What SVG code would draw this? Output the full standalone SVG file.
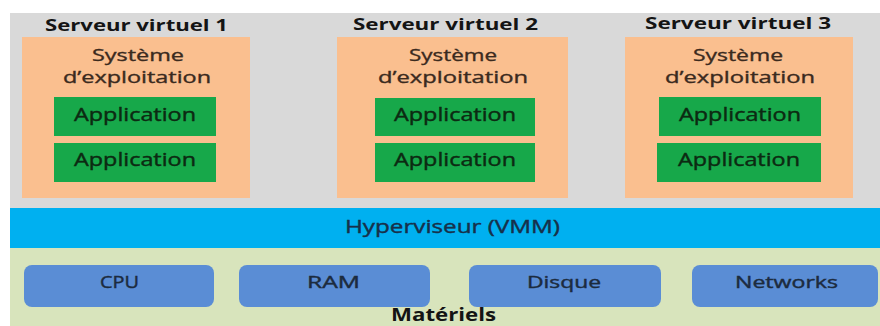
<svg xmlns="http://www.w3.org/2000/svg" width="880" height="326" viewBox="0 0 880 326">
<style>
text{font-family:"Open Sans","DejaVu Sans",sans-serif;text-anchor:middle}
.title{font-size:16px;font-weight:bold;fill:#141414}
.os{font-size:16px;fill:#3a2a1e;stroke:#3a2a1e;stroke-width:0.35}
.os-box{fill:#FABF8F}
.app{fill:#17A84A}
.app-t{font-size:18px;fill:#0c2a12;stroke:#0c2a12;stroke-width:0.4}
.hw{fill:#5A8DD5}
.hw-t{font-size:16px;fill:#1c2b3e;stroke:#1c2b3e;stroke-width:0.4}
.hv{font-size:18px;fill:#17304a;stroke:#17304a;stroke-width:0.4}
</style>
<rect x="0" y="0" width="880" height="326" fill="#ffffff"/>
<g id="virtual-area"><rect x="10" y="13" width="870" height="195" fill="#D9D9D9"/></g>
<g id="server1">
<text class="title" x="136.5" y="31" textLength="183" lengthAdjust="spacingAndGlyphs">Serveur virtuel 1</text>
<rect class="os-box" x="22" y="37" width="228" height="161"/>
<text class="os" x="138" y="61" textLength="92" lengthAdjust="spacingAndGlyphs">Système</text>
<text class="os" x="137" y="83" textLength="148" lengthAdjust="spacingAndGlyphs">d’exploitation</text>
<g id="s1-app1"><rect class="app" x="54" y="97" width="162" height="39"/><text class="app-t" x="135" y="121" textLength="122" lengthAdjust="spacingAndGlyphs">Application</text></g>
<g id="s1-app2"><rect class="app" x="54" y="143" width="162" height="39"/><text class="app-t" x="135" y="166" textLength="122" lengthAdjust="spacingAndGlyphs">Application</text></g>
</g>
<g id="server2">
<text class="title" x="445.5" y="30" textLength="185" lengthAdjust="spacingAndGlyphs">Serveur virtuel 2</text>
<rect class="os-box" x="337" y="37" width="231" height="161"/>
<text class="os" x="453" y="61" textLength="88" lengthAdjust="spacingAndGlyphs">Système</text>
<text class="os" x="453" y="83" textLength="150" lengthAdjust="spacingAndGlyphs">d’exploitation</text>
<g id="s2-app1"><rect class="app" x="375" y="98" width="160" height="38"/><text class="app-t" x="455" y="121" textLength="122" lengthAdjust="spacingAndGlyphs">Application</text></g>
<g id="s2-app2"><rect class="app" x="375" y="143" width="160" height="39"/><text class="app-t" x="455" y="166" textLength="122" lengthAdjust="spacingAndGlyphs">Application</text></g>
</g>
<g id="server3">
<text class="title" x="738" y="29" textLength="186" lengthAdjust="spacingAndGlyphs">Serveur virtuel 3</text>
<rect class="os-box" x="625" y="37" width="228" height="161"/>
<text class="os" x="738" y="61" textLength="90" lengthAdjust="spacingAndGlyphs">Système</text>
<text class="os" x="740" y="83" textLength="150" lengthAdjust="spacingAndGlyphs">d’exploitation</text>
<g id="s3-app1"><rect class="app" x="659" y="97" width="162" height="39"/><text class="app-t" x="740" y="121" textLength="122" lengthAdjust="spacingAndGlyphs">Application</text></g>
<g id="s3-app2"><rect class="app" x="657" y="143" width="164" height="39"/><text class="app-t" x="739" y="166" textLength="122" lengthAdjust="spacingAndGlyphs">Application</text></g>
</g>
<g id="hypervisor">
<rect x="10" y="208" width="870" height="40" fill="#00B0F0"/>
<text class="hv" x="452.5" y="233" textLength="215" lengthAdjust="spacingAndGlyphs">Hyperviseur (VMM)</text>
</g>
<g id="hardware">
<rect x="10" y="248" width="870" height="78" fill="#D8E4BC"/>
<text x="443.5" y="321" font-size="17" font-weight="bold" fill="#141414" textLength="105" lengthAdjust="spacingAndGlyphs">Matériels</text>
</g>
<g id="cpu"><rect class="hw" x="24" y="265" width="190" height="42" rx="8"/><text class="hw-t" x="119.5" y="288" textLength="39" lengthAdjust="spacingAndGlyphs">CPU</text></g>
<g id="ram"><rect class="hw" x="239" y="265" width="191" height="42" rx="8"/><text class="hw-t" x="333.5" y="288" textLength="53" lengthAdjust="spacingAndGlyphs">RAM</text></g>
<g id="disque"><rect class="hw" x="469" y="265" width="192" height="42" rx="8"/><text class="hw-t" x="564" y="288" textLength="74" lengthAdjust="spacingAndGlyphs">Disque</text></g>
<g id="networks"><rect class="hw" x="692" y="265" width="186" height="42" rx="8"/><text class="hw-t" x="786.5" y="288" textLength="103" lengthAdjust="spacingAndGlyphs">Networks</text></g>
<g id="connectors"/>
</svg>
